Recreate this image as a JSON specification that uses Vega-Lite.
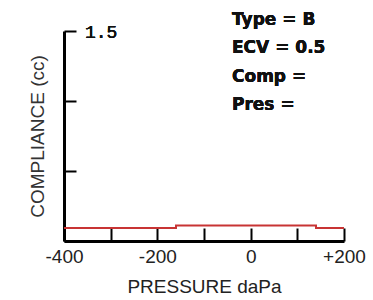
{
  "$schema": "https://vega.github.io/schema/vega-lite/v6.json",
  "width": 280,
  "height": 210,
  "autosize": "none",
  "padding": {"left": 64, "top": 31, "right": 29, "bottom": 59},
  "background": "white",
  "config": {"view": {"stroke": null}},
  "data": {"values": [
    {"pressure": -400, "compliance": 0.093},
    {"pressure": -160, "compliance": 0.11},
    {"pressure": 140, "compliance": 0.093},
    {"pressure": 200, "compliance": 0.093}
  ]},
  "layer": [
    {
      "mark": {"type": "line", "interpolate": "step-after", "color": "#c83434", "strokeWidth": 2},
      "encoding": {
        "x": {"field": "pressure", "type": "quantitative",
          "scale": {"domain": [-400, 200], "nice": false, "zero": false},
          "axis": {"values": [-400, -300, -200, -100, 0, 100, 200],
            "title": "PRESSURE daPa", "titleFont": "Liberation Sans", "titleFontSize": 19, "titleFontWeight": "normal", "titleColor": "#222", "titlePadding": 11,
            "labelExpr": "datum.value % 200 == 0 ? (datum.value > 0 ? '+' + datum.value : '' + datum.value) : ''",
            "labelFont": "Liberation Sans", "labelFontSize": 19, "labelColor": "#222", "labelPadding": 19, "labelFlush": false,
            "domainColor": "black", "domainWidth": 3, "tickColor": "black", "tickWidth": 2, "tickSize": -13, "grid": false}},
        "y": {"field": "compliance", "type": "quantitative",
          "scale": {"domain": [0, 1.5], "nice": false},
          "axis": {"values": [0, 0.5, 1, 1.5], "labels": false,
            "title": "COMPLIANCE (cc)", "titleFont": "Liberation Sans", "titleFontSize": 19, "titleFontWeight": "normal", "titleColor": "#333", "titlePadding": 16,
            "domainColor": "black", "domainWidth": 3, "tickColor": "black", "tickWidth": 2, "tickSize": -12, "grid": false}}
      }
    },
    {
      "mark": {"type": "text", "text": "1.5", "font": "Liberation Mono", "fontSize": 18, "color": "#111", "align": "left", "baseline": "middle", "dx": 21, "dy": 2},
      "encoding": {"x": {"datum": -400}, "y": {"datum": 1.5}}
    },
    {
      "mark": {"type": "text", "text": ["Type = B", "ECV = 0.5", "Comp =", "Pres ="], "font": "DejaVu Sans", "fontWeight": "bold", "fontSize": 17, "lineHeight": 28.5, "color": "#111", "align": "left", "baseline": "alphabetic"},
      "encoding": {"x": {"datum": -40}, "y": {"datum": 1.543}}
    }
  ]
}
